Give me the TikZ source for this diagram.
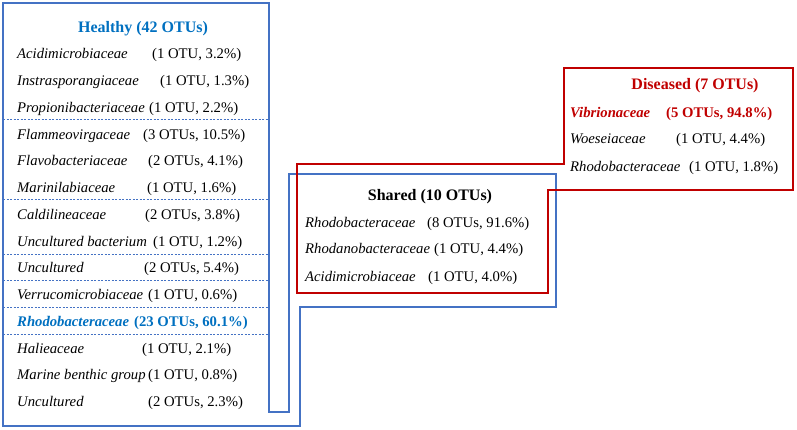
\documentclass[tikz,border=0pt]{standalone}
\usepackage{fontspec}
\setmainfont{Liberation Serif}
\definecolor{hblue}{HTML}{4472C4}
\definecolor{tblue}{HTML}{0070C0}
\definecolor{dred}{HTML}{C00000}
\begin{document}
\begin{tikzpicture}[x=1pt,y=-1pt,
  txt/.style={inner sep=0pt, font=\fontsize{14.7}{17}\selectfont},
  lbl/.style={txt, anchor=base west, font=\fontsize{14.7}{17}\selectfont\itshape},
  val/.style={txt, anchor=base west},
  ttl/.style={txt, anchor=base, font=\fontsize{16}{19}\selectfont\bfseries},
  bluebox/.style={draw=hblue, line width=1.6pt},
  redbox/.style={draw=dred, line width=1.6pt},
  sep/.style={draw=hblue, dashed, line width=0.6pt, dash pattern=on 2pt off 1.5pt}
]
\useasboundingbox (0,0) rectangle (797,429);
% outlines
\draw[bluebox] (3,3) -- (269,3) -- (269,412) -- (289,412) -- (289,174) -- (556,174) -- (556,307) -- (300,307) -- (300,426) -- (3,426) -- cycle;
\draw[redbox] (297,164) -- (564,164) -- (564,68) -- (793,68) -- (793,190) -- (548,190) -- (548,293) -- (297,293) -- cycle;
% separators
\foreach \yy in {119,199,254,280,307,334} \draw[sep] (3,\yy) -- (269,\yy);
% Healthy
\node[ttl, text=tblue] (ht) at (143,32) {Healthy (42 OTUs)};
\node[lbl] (h1) at (17,58) {Acidimicrobiaceae};
\node[val] (v1) at (152,58) {(1 OTU, 3.2\%)};
\node[lbl] (h2) at (17,85) {Instrasporangiaceae};
\node[val] (v2) at (160,85) {(1 OTU, 1.3\%)};
\node[lbl] (h3) at (17,112) {Propionibacteriaceae};
\node[val] (v3) at (149,112) {(1 OTU, 2.2\%)};
\node[lbl] (h4) at (17,139) {Flammeovirgaceae};
\node[val] (v4) at (143,139) {(3 OTUs, 10.5\%)};
\node[lbl] (h5) at (17,165) {Flavobacteriaceae};
\node[val] (v5) at (148,165) {(2 OTUs, 4.1\%)};
\node[lbl] (h6) at (17,192) {Marinilabiaceae};
\node[val] (v6) at (147,192) {(1 OTU, 1.6\%)};
\node[lbl] (h7) at (17,219) {Caldilineaceae};
\node[val] (v7) at (145,219) {(2 OTUs, 3.8\%)};
\node[lbl] (h8) at (17,246) {Uncultured bacterium};
\node[val] (v8) at (153,246) {(1 OTU, 1.2\%)};
\node[lbl] (h9) at (17,272) {Uncultured};
\node[val] (v9) at (144,272) {(2 OTUs, 5.4\%)};
\node[lbl] (h10) at (17,299) {Verrucomicrobiaceae};
\node[val] (v10) at (148,299) {(1 OTU, 0.6\%)};
\node[lbl, text=tblue, font=\fontsize{14.7}{17}\selectfont\bfseries\itshape] (h11) at (17,326) {Rhodobacteraceae};
\node[val, text=tblue, font=\fontsize{14.7}{17}\selectfont\bfseries] (v11) at (134,326) {(23 OTUs, 60.1\%)};
\node[lbl] (h12) at (17,353) {Halieaceae};
\node[val] (v12) at (142,353) {(1 OTU, 2.1\%)};
\node[lbl] (h13) at (17,379) {Marine benthic group};
\node[val] (v13) at (148,379) {(1 OTU, 0.8\%)};
\node[lbl] (h14) at (17,406) {Uncultured};
\node[val] (v14) at (148,406) {(2 OTUs, 2.3\%)};
% Shared
\node[ttl] (st) at (430,200) {Shared (10 OTUs)};
\node[lbl] (s1) at (305,227) {Rhodobacteraceae};
\node[val] (sv1) at (427,227) {(8 OTUs, 91.6\%)};
\node[lbl] (s2) at (305,253) {Rhodanobacteraceae};
\node[val] (sv2) at (434,253) {(1 OTU, 4.4\%)};
\node[lbl] (s3) at (305,281) {Acidimicrobiaceae};
\node[val] (sv3) at (428,281) {(1 OTU, 4.0\%)};
% Diseased
\node[ttl, text=dred] (dt) at (695,89) {Diseased (7 OTUs)};
\node[lbl, text=dred, font=\fontsize{14.7}{17}\selectfont\bfseries\itshape] (d1) at (570,117) {Vibrionaceae};
\node[val, text=dred, font=\fontsize{14.7}{17}\selectfont\bfseries] (dv1) at (666,117) {(5 OTUs, 94.8\%)};
\node[lbl] (d2) at (570,143) {Woeseiaceae};
\node[val] (dv2) at (676,143) {(1 OTU, 4.4\%)};
\node[lbl] (d3) at (570,171) {Rhodobacteraceae};
\node[val] (dv3) at (689,171) {(1 OTU, 1.8\%)};
\end{tikzpicture}
\end{document}
